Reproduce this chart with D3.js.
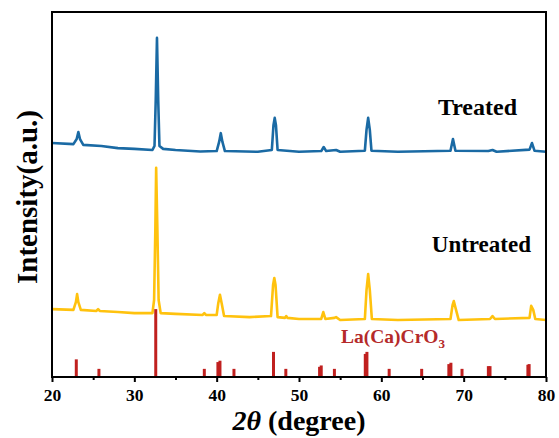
<!DOCTYPE html>
<html>
<head>
<meta charset="utf-8">
<script src="https://cdn.jsdelivr.net/npm/d3@7"></script>
<style>
  body { margin: 0; background: #fff; }
  svg text { font-family: "Liberation Serif", "Times New Roman", Times, Tinos, "DejaVu Serif", serif; font-weight: bold; }
</style>
</head>
<body>
<div id="chart"></div>
<script>
// 2theta (deg), intensity (a.u.)
const treated = [
  [20, 64.1], [22.6, 63.8], [23.0, 65.2], [23.2, 67.1], [23.4, 65.2], [23.8, 63.6],
  [26, 63.3], [28, 62.7], [30, 62.5], [32.2, 62.2], [32.45, 63.3], [32.6, 75.9],
  [32.75, 92.9], [32.9, 75.9], [33.05, 63.3], [33.5, 62.5], [35, 62.2], [38, 61.8],
  [40.0, 61.9], [40.3, 64.4], [40.5, 66.8], [40.7, 64.4], [41.0, 61.9], [45, 61.7],
  [46.7, 62.2], [46.9, 69.0], [47.05, 71.0], [47.2, 69.0], [47.4, 62.2], [50, 61.7],
  [52.7, 61.9], [53.0, 63.0], [53.3, 61.9], [54.5, 62.2], [55, 61.7], [58.0, 62.0],
  [58.2, 67.7], [58.4, 71.0], [58.6, 67.7], [58.8, 62.0], [62, 61.7], [68.4, 62.0],
  [68.7, 65.2], [69.0, 62.0], [73, 61.9], [73.5, 62.2], [74, 61.7], [78.0, 62.3],
  [78.3, 64.1], [78.6, 62.0], [80, 61.7]
];

const untreated = [
  [20, 18.6], [22.6, 18.4], [22.9, 20.5], [23.05, 22.7], [23.2, 20.5], [23.5, 18.4],
  [25.4, 18.1], [25.6, 18.6], [25.8, 18.1], [28, 17.8], [30, 17.5], [32.2, 17.5],
  [32.4, 21.1], [32.55, 40.3], [32.65, 57.3], [32.8, 40.3], [32.95, 21.1], [33.2, 17.5],
  [35, 17.3], [38.3, 17.0], [38.5, 17.5], [38.7, 17.0], [40.0, 17.0], [40.2, 20.3],
  [40.4, 22.5], [40.6, 20.3], [40.9, 16.7], [44, 16.4], [46.6, 16.7], [46.85, 25.2],
  [47.0, 27.1], [47.15, 25.2], [47.4, 16.4], [48.3, 16.2], [48.45, 16.7], [48.6, 16.2],
  [50, 15.9], [52.7, 15.9], [52.95, 17.8], [53.2, 15.9], [54.3, 16.2], [54.5, 16.4],
  [55, 15.6], [58.0, 15.9], [58.2, 23.8], [58.4, 28.2], [58.6, 23.8], [58.85, 15.9],
  [62, 15.6], [68.4, 15.9], [68.65, 19.7], [68.8, 20.8], [69.05, 18.6], [69.4, 15.6],
  [73.2, 15.9], [73.5, 16.7], [73.8, 15.9], [78.0, 16.2], [78.2, 19.5], [78.45, 18.4],
  [78.7, 15.9], [80, 15.6]
];

// reference card La(Ca)CrO3: 2theta, relative intensity (%)
const refPeaks = [
  [22.95, 26], [25.7, 12], [32.6, 100], [38.5, 12], [40.15, 22], [40.4, 24],
  [42.1, 12], [46.9, 37], [48.4, 12], [52.5, 15], [52.7, 17], [54.3, 12],
  [58.05, 34], [58.25, 37], [60.95, 12], [64.9, 12], [68.2, 19], [68.45, 21],
  [69.8, 12], [73.0, 16], [73.2, 16], [77.8, 18], [77.95, 19]
];

const xTicks = [20, 30, 40, 50, 60, 70, 80];
const xMinor = [25, 35, 45, 55, 65, 75];

const width = 559, height = 438;
const margin = {top: 12, right: 13, bottom: 61, left: 52};

const svg = d3.select("#chart").append("svg")
  .attr("width", width)
  .attr("height", height);

const x = d3.scaleLinear().domain([20, 80]).range([margin.left, width - margin.right]);
const y = d3.scaleLinear().domain([0, 100]).range([height - margin.bottom, margin.top]);
// sticks use their own relative scale, 100% ~ 18.6 a.u. of plot height
const yRef = d3.scaleLinear().domain([0, 100]).range([y(0), y(18.6)]);

const line = d3.line().x(d => x(d[0])).y(d => y(d[1]));

svg.append("path")
  .datum(untreated)
  .attr("fill", "none")
  .attr("stroke", "#ffc20e")
  .attr("stroke-width", 2.6)
  .attr("stroke-linejoin", "round")
  .attr("d", line);

svg.append("path")
  .datum(treated)
  .attr("fill", "none")
  .attr("stroke", "#1a6aa4")
  .attr("stroke-width", 2.6)
  .attr("stroke-linejoin", "round")
  .attr("d", line);

svg.selectAll(".ref")
  .data(refPeaks)
  .join("line")
  .attr("class", "ref")
  .attr("x1", d => x(d[0]))
  .attr("x2", d => x(d[0]))
  .attr("y1", yRef(0))
  .attr("y2", d => yRef(d[1]))
  .attr("stroke", "#c0201f")
  .attr("stroke-width", 3);

// frame
svg.append("rect")
  .attr("x", margin.left)
  .attr("y", margin.top)
  .attr("width", width - margin.left - margin.right)
  .attr("height", height - margin.top - margin.bottom)
  .attr("fill", "none")
  .attr("stroke", "#000")
  .attr("stroke-width", 2);

// x axis
const xAxis = svg.append("g")
  .attr("transform", `translate(0,${y(0)})`)
  .call(d3.axisBottom(x).tickValues(xTicks).tickSize(5).tickPadding(7).tickFormat(d3.format("d")));
xAxis.select(".domain").remove();
xAxis.attr("font-family", null);
xAxis.selectAll("line").attr("stroke-width", 2);
xAxis.selectAll("text")
  .attr("font-size", 17.5)
  .attr("fill", "#000");

svg.append("g")
  .attr("transform", `translate(0,${y(0)})`)
  .call(d3.axisBottom(x).tickValues(xMinor).tickSize(3).tickFormat(""))
  .call(g => g.select(".domain").remove())
  .selectAll("line").attr("stroke-width", 2);

// axis titles
const xTitle = svg.append("text")
  .attr("x", (x(20) + x(80)) / 2)
  .attr("y", 430)
  .attr("text-anchor", "middle")
  .attr("font-size", 28);
xTitle.append("tspan").attr("font-style", "italic").text("2θ");
xTitle.append("tspan").text(" (degree)");

svg.append("text")
  .attr("transform", `translate(37,197) rotate(-90)`)
  .attr("text-anchor", "middle")
  .attr("font-size", 29)
  .text("Intensity(a.u.)");

// series labels
svg.append("text")
  .attr("x", 517)
  .attr("y", 115)
  .attr("text-anchor", "end")
  .attr("font-size", 24)
  .text("Treated");

svg.append("text")
  .attr("x", 531)
  .attr("y", 252)
  .attr("text-anchor", "end")
  .attr("font-size", 23)
  .text("Untreated");

const refLabel = svg.append("text")
  .attr("x", 341)
  .attr("y", 343)
  .attr("font-size", 19.5)
  .attr("fill", "#b52a2a")
  .text("La(Ca)CrO");
refLabel.append("tspan")
  .attr("font-size", 13)
  .attr("dy", 5)
  .text("3");
</script>
</body>
</html>
